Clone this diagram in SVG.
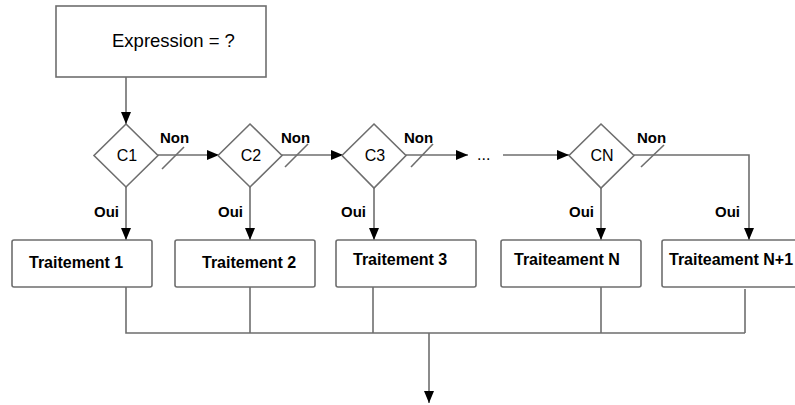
<svg xmlns="http://www.w3.org/2000/svg" width="795" height="405" viewBox="0 0 795 405">
<style>
.shape{fill:#fff;stroke:#6e6e6e;stroke-width:1.6}
.ln{fill:none;stroke:#6e6e6e;stroke-width:1.6}
.lbl{font-family:"Liberation Sans",Arial,sans-serif;font-weight:bold;font-size:15px;fill:#000}
.box{font-family:"Liberation Sans",Arial,sans-serif;font-weight:bold;font-size:16px;fill:#000}
.dia{font-family:"Liberation Sans",Arial,sans-serif;font-size:16px;fill:#000;text-anchor:middle}
</style>
<defs>
<marker id="ah" markerUnits="userSpaceOnUse" markerWidth="12" markerHeight="10" refX="12" refY="5" orient="auto">
<path d="M0,0 L12,5 L0,10 z" fill="#000"/>
</marker>
</defs>
<rect width="795" height="405" fill="#fff"/>
<g id="connectors">
<line class="ln" x1="126" y1="77" x2="126" y2="124" marker-end="url(#ah)"/>
<line class="ln" x1="158" y1="155" x2="219" y2="155" marker-end="url(#ah)"/>
<line class="ln" x1="282" y1="155" x2="343" y2="155" marker-end="url(#ah)"/>
<line class="ln" x1="406" y1="155" x2="468" y2="155" marker-end="url(#ah)"/>
<line class="ln" x1="503" y1="155" x2="569" y2="155" marker-end="url(#ah)"/>
<polyline class="ln" points="634,155 749,155 749,240" marker-end="url(#ah)"/>
<line class="ln" x1="162" y1="169" x2="184" y2="147"/>
<line class="ln" x1="285" y1="167" x2="308" y2="144"/>
<line class="ln" x1="411" y1="167" x2="433" y2="144"/>
<line class="ln" x1="641" y1="167" x2="664" y2="145"/>
<line class="ln" x1="126" y1="187" x2="126" y2="240" marker-end="url(#ah)"/>
<line class="ln" x1="250" y1="187" x2="250" y2="240" marker-end="url(#ah)"/>
<line class="ln" x1="374" y1="188" x2="374" y2="240" marker-end="url(#ah)"/>
<line class="ln" x1="601" y1="188" x2="601" y2="240" marker-end="url(#ah)"/>
<polyline class="ln" points="126,287 126,333 745,333"/>
<line class="ln" x1="250" y1="287" x2="250" y2="333"/>
<line class="ln" x1="373" y1="287" x2="373" y2="333"/>
<line class="ln" x1="601" y1="287" x2="601" y2="333"/>
<line class="ln" x1="745" y1="289" x2="745" y2="333"/>
<line class="ln" x1="429" y1="333" x2="429" y2="403" marker-end="url(#ah)"/>
<text class="lbl" x="160" y="143">Non</text>
<text class="lbl" x="281" y="143">Non</text>
<text class="lbl" x="404" y="143">Non</text>
<text class="lbl" x="637" y="143">Non</text>
<text class="lbl" x="119" y="217" text-anchor="end">Oui</text>
<text class="lbl" x="243" y="217" text-anchor="end">Oui</text>
<text class="lbl" x="366" y="217" text-anchor="end">Oui</text>
<text class="lbl" x="594" y="217" text-anchor="end">Oui</text>
<text class="lbl" x="740" y="217" text-anchor="end">Oui</text>
<text x="477" y="160" style="font-family:'Liberation Sans',Arial,sans-serif;font-size:16px;fill:#000">...</text>
</g>
<g id="expression">
<rect class="shape" x="56" y="6" width="210" height="71"/>
<text x="112" y="47" style="font-family:'Liberation Sans',Arial,sans-serif;font-size:18.5px;fill:#000">Expression = ?</text>
</g>
<g id="c1"><polygon class="shape" points="126,124 158,155.5 126,187 94,155.5"/><text class="dia" x="127" y="161">C1</text></g>
<g id="c2"><polygon class="shape" points="250,124 282,155.5 250,187 218,155.5"/><text class="dia" x="251" y="161">C2</text></g>
<g id="c3"><polygon class="shape" points="374,124 406,155.5 374,188 342,155.5"/><text class="dia" x="375" y="161">C3</text></g>
<g id="cn"><polygon class="shape" points="601,124 634,155.5 601,188 569,155.5"/><text class="dia" x="602" y="161">CN</text></g>
<g id="t1"><rect class="shape" x="12" y="240" width="140" height="47" rx="2"/><text class="box" x="29" y="268">Traitement 1</text></g>
<g id="t2"><rect class="shape" x="175" y="240" width="140" height="47" rx="2"/><text class="box" x="202" y="268">Traitement 2</text></g>
<g id="t3"><rect class="shape" x="336" y="240" width="140" height="47" rx="2"/><text class="box" x="353" y="265">Traitement 3</text></g>
<g id="tn"><rect class="shape" x="501" y="240" width="140" height="47" rx="2"/><text class="box" x="514" y="265">Traiteament N</text></g>
<g id="tn1"><rect class="shape" x="662" y="240" width="140" height="47" rx="2"/><text class="box" x="669" y="265">Traiteament N+1</text></g>
</svg>
